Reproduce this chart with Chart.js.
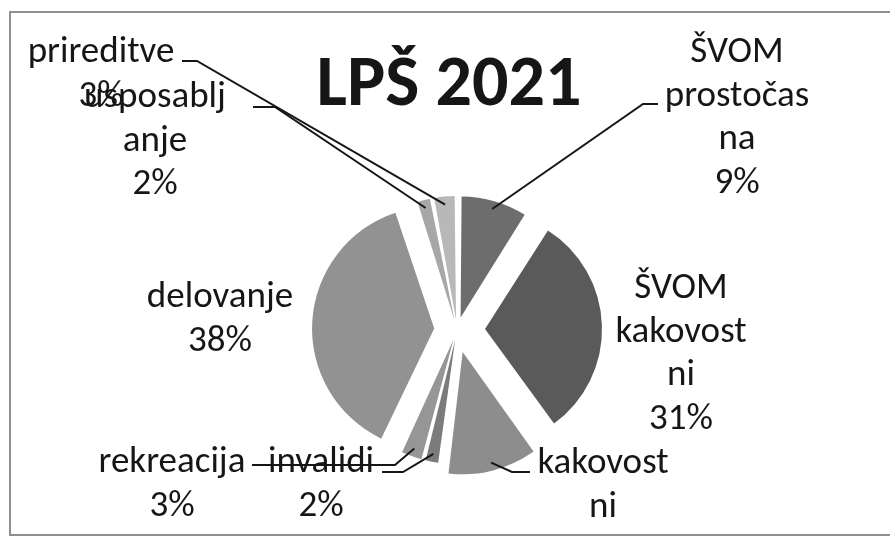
<!DOCTYPE html>
<html>
<head>
<meta charset="utf-8">
<style>
  html, body { margin: 0; padding: 0; background: #ffffff; }
  #wrap { width: 890px; height: 537px; position: relative; }
</style>
<script src="https://cdn.jsdelivr.net/npm/chart.js@4.4.1/dist/chart.umd.min.js"></script>
</head>
<body>
<div id="wrap"><canvas id="chartLps" width="890" height="537"></canvas></div>
<script>
// podatki
const naslov = "LPŠ 2021";
const kategorije = ["ŠVOM prostočasna", "ŠVOM kakovostni", "kakovostni", "invalidi", "rekreacija", "delovanje", "usposabljanje", "prireditve"];
const vrednosti = [9, 31, 12, 2, 3, 38, 2, 3];
const barve = ["#6d6d6d", "#5a5a5a", "#8d8d8d", "#7b7b7b", "#969696", "#929292", "#a7a7a7", "#b8b8b8"];

// razporeditev oznak (kako Excel prelomi besedilo, kje stoji oznaka)
const oznake = [
  { vrstice: ["ŠVOM", "prostočas", "na"], x: 737, y: 62, crta: [658, 104, 643] },
  { vrstice: ["ŠVOM", "kakovost", "ni"], x: 681, y: 298, crta: null },
  { vrstice: ["kakovost", "ni"], x: 603, y: 473, crta: [530, 472, 512] },
  { vrstice: ["invalidi"], x: 321, y: 472, crta: [382, 472, 403] },
  { vrstice: ["rekreacija"], x: 172, y: 472, crta: [252, 465, 395] },
  { vrstice: ["delovanje"], x: 220, y: 307, crta: null },
  { vrstice: ["usposablj", "anje"], x: 155, y: 107, crta: [253, 107, 275] },
  { vrstice: ["prireditve"], x: 101, y: 62, crta: [182, 61, 197] }
];

const POLMER = 115;
const PISAVA = "Carlito, Lato, 'Noto Sans', sans-serif";
const VISINA_VRSTICE = 43.5;

const vsota = vrednosti.reduce(function (a, b) { return a + b; }, 0);

// manjse rezine so na sliki manj odmaknjene
function razmik(i) {
  return vrednosti[i] / vsota >= 0.1 ? 30 : 19;
}

function odmikRezine(ctx) {
  const v = vrednosti[ctx.dataIndex];
  const kot = (v / vsota) * Math.PI * 2;
  return (4 * razmik(ctx.dataIndex)) / (2 - Math.sin(Math.min(Math.PI, kot)));
}

const okvirInNaslov = {
  id: "okvirInNaslov",
  beforeDraw: function (chart) {
    const c = chart.ctx;
    c.save();
    c.fillStyle = "#ffffff";
    c.fillRect(0, 0, chart.width, chart.height);
    c.restore();
  },
  afterDraw: function (chart) {
    const c = chart.ctx;
    const meta = chart.getDatasetMeta(0);
    c.save();

    // vse, kar gleda cez okvir, je odrezano
    c.beginPath();
    c.rect(11, 13, 900, 521);
    c.clip();

    c.fillStyle = "#161616";
    c.textAlign = "center";
    c.textBaseline = "alphabetic";
    c.font = "bold 72px " + PISAVA;
    c.fillText(naslov, 449, 105);

    // crte do rezin
    c.strokeStyle = "#161616";
    c.lineWidth = 2;
    for (let i = 0; i < meta.data.length; i++) {
      const o = oznake[i];
      if (!o.crta) continue;
      const arc = meta.data[i];
      const pol = (arc.startAngle + arc.endAngle) / 2;
      const d = razmik(i) + POLMER - 8;
      const ex = arc.x + Math.cos(pol) * d;
      const ey = arc.y + Math.sin(pol) * d;
      c.beginPath();
      c.moveTo(o.crta[0], o.crta[1]);
      c.lineTo(o.crta[2], o.crta[1]);
      c.lineTo(ex, ey);
      c.stroke();
    }

    c.font = "37px " + PISAVA;
    for (let i = 0; i < oznake.length; i++) {
      const o = oznake[i];
      const vrstice = o.vrstice.concat([Math.round((vrednosti[i] / vsota) * 100) + "%"]);
      for (let j = 0; j < vrstice.length; j++) {
        c.fillText(vrstice[j], o.x, o.y + j * VISINA_VRSTICE);
      }
    }
    c.restore();

    c.save();
    c.strokeStyle = "#8f8f8f";
    c.lineWidth = 2;
    c.strokeRect(10, 12, 900, 523);
    c.restore();
  }
};

new Chart(document.getElementById("chartLps").getContext("2d"), {
  type: "pie",
  data: {
    labels: kategorije,
    datasets: [
      {
        data: vrednosti,
        backgroundColor: barve,
        borderWidth: 0,
        radius: POLMER,
        offset: odmikRezine
      }
    ]
  },
  options: {
    responsive: false,
    animation: false,
    layout: { padding: { left: 24, top: 123, right: 0, bottom: 0 } },
    plugins: {
      legend: { display: false },
      title: { display: false },
      tooltip: { enabled: false }
    }
  },
  plugins: [okvirInNaslov]
});
</script>
</body>
</html>
